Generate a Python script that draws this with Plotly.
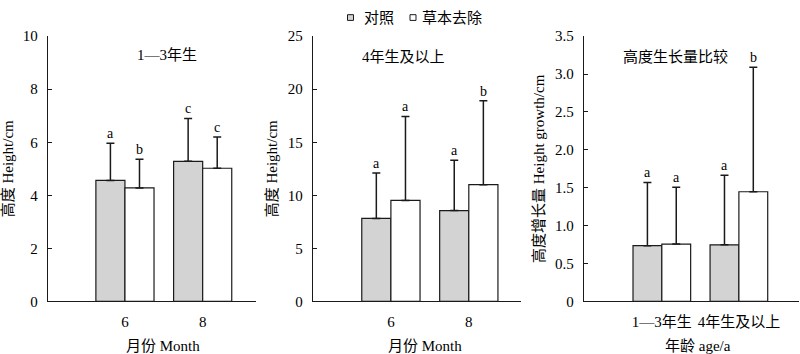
import plotly.graph_objects as go

# ---------------- data ----------------
months = ["6", "8"]
ages = ["1—3年生", "4年生及以上"]

p1_ctrl = [4.56, 5.28]
p1_ctrl_err = [1.40, 1.62]
p1_rem = [4.28, 5.02]
p1_rem_err = [1.08, 1.18]
p1_ctrl_sig = ["a", "c"]
p1_rem_sig = ["b", "c"]

p2_ctrl = [7.82, 8.56]
p2_ctrl_err = [4.28, 4.74]
p2_rem = [9.52, 11.0]
p2_rem_err = [7.91, 7.92]
p2_ctrl_sig = ["a", "a"]
p2_rem_sig = ["a", "b"]

p3_ctrl = [0.735, 0.747]
p3_ctrl_err = [0.835, 0.918]
p3_rem = [0.756, 1.447]
p3_rem_err = [0.749, 1.643]
p3_ctrl_sig = ["a", "a"]
p3_rem_sig = ["a", "b"]

y1_ticks = [0, 2, 4, 6, 8, 10]
y2_ticks = [0, 5, 10, 15, 20, 25]
y3_ticks = [0, 0.5, 1.0, 1.5, 2.0, 2.5, 3.0, 3.5]
y3_ticktext = ["0", "0.5", "1.0", "1.5", "2.0", "2.5", "3.0", "3.5"]

series_names = ["对照", "草本去除"]
panel_titles = ["1—3年生", "4年生及以上", "高度生长量比较"]
# --------------------------------------

FONT = "Liberation Serif, 'Times New Roman', 'Noto Sans CJK SC', serif"
GRAY = "#d3d3d3"
EDGE = "#1a1a1a"
BARGAP = 0.252
HALF = (1 - BARGAP) / 4  # offset of each bar centre from group centre

fig = go.Figure()

panels = [
    (p1_ctrl, p1_ctrl_err, p1_rem, p1_rem_err, p1_ctrl_sig, p1_rem_sig, "x", "y"),
    (p2_ctrl, p2_ctrl_err, p2_rem, p2_rem_err, p2_ctrl_sig, p2_rem_sig, "x2", "y2"),
    (p3_ctrl, p3_ctrl_err, p3_rem, p3_rem_err, p3_ctrl_sig, p3_rem_sig, "x3", "y3"),
]

annotations = []
for (c, ce, r, re_, cs, rs, xa, ya) in panels:
    pos = list(range(len(c)))
    for vals, errs, sig, color, name, sgn in [
        (c, ce, cs, GRAY, series_names[0], -1),
        (r, re_, rs, "white", series_names[1], 1),
    ]:
        fig.add_trace(go.Bar(
            x=pos, y=vals, name=name, showlegend=False,
            marker=dict(color=color, line=dict(color=EDGE, width=1.2)),
            error_y=dict(type="data", array=errs, arrayminus=[0] * len(errs),
                         symmetric=False, color=EDGE, thickness=1.5, width=4),
            xaxis=xa, yaxis=ya,
        ))
        for p, v, e, s in zip(pos, vals, errs, sig):
            annotations.append(dict(
                x=p + sgn * HALF, y=v + e, xref=xa, yref=ya, text=s,
                showarrow=False, yanchor="bottom", yshift=0,
                font=dict(family=FONT, size=14, color="black"),
            ))

# panel titles
for xa, xpos, ypos, t in [("x", 0.572, 0.93, panel_titles[0]),
                          ("x2", 0.436, 0.92, panel_titles[1]),
                          ("x3", 0.427, 0.925, panel_titles[2])]:
    ya = xa.replace("x", "y")
    annotations.append(dict(
        x=xpos, y=ypos, xref=xa + " domain", yref=ya + " domain", text=t,
        showarrow=False, xanchor="center", yanchor="middle",
        font=dict(family=FONT, size=15, color="black"),
    ))

# x-axis titles
for xc, t in [(163, "月份 Month"), (425, "月份 Month"), (698, "年龄 age/a")]:
    annotations.append(dict(
        x=xc / 800, y=0, xref="paper", yref="paper", text=t,
        showarrow=False, xanchor="center", yanchor="middle",
        font=dict(family=FONT, size=15, color="black"),
    ))

# manual legend
shapes = []
for sx, col, tx, t in [(350.5, GRAY, 362, series_names[0]), (413, "white", 420, series_names[1])]:
    shapes.append(dict(type="rect", xref="paper", yref="paper",
                       x0=(sx - 3) / 800, x1=(sx + 3) / 800,
                       y0=1 - 13 / 354, y1=1 - 7 / 354,
                       fillcolor=col, line=dict(color=EDGE, width=1)))
    annotations.append(dict(
        x=tx / 800, y=1 - 10 / 354, xref="paper", yref="paper", text=t,
        showarrow=False, xanchor="left", yanchor="middle",
        font=dict(family=FONT, size=15, color="black"),
    ))

ydom = [1 - 307.3 / 354, 1 - 29.5 / 354]

def xaxis(domain, rng, ticktext, anchor, fs=15):
    return dict(domain=domain, range=rng, tickvals=list(range(len(ticktext))),
                ticktext=ticktext, ticks="", showline=True, linecolor=EDGE,
                linewidth=1.3, showgrid=False, zeroline=False, anchor=anchor,
                tickfont=dict(family=FONT, size=fs, color="black"),
                ticklabelstandoff=6)

def yaxis(rng, tickvals, ticktext, anchor, title):
    return dict(domain=ydom, range=rng, tickvals=tickvals, ticktext=ticktext,
                ticks="inside", ticklen=4, tickcolor=EDGE, tickwidth=1.2,
                showline=True, linecolor=EDGE, linewidth=1.3, showgrid=False,
                zeroline=False, anchor=anchor,
                tickfont=dict(family=FONT, size=15, color="black"),
                ticklabelstandoff=6,
                title=dict(text=title, font=dict(family=FONT, size=15, color="black"),
                           standoff=6))

fig.update_layout(
    width=800, height=354,
    margin=dict(l=0, r=0, t=0, b=0),
    paper_bgcolor="white", plot_bgcolor="white",
    barmode="group", bargap=BARGAP, bargroupgap=0,
    showlegend=False,
    xaxis=xaxis([48 / 800, 256 / 800], [-0.99, 1.686], months, "y"),
    xaxis2=xaxis([313 / 800, 521 / 800], [-1.0, 1.67], months, "y2"),
    xaxis3=xaxis([584 / 800, 799 / 800], [-1.01, 1.78], ages, "y3"),
    yaxis=yaxis([0, 10], y1_ticks, [str(v) for v in y1_ticks], "x", "高度 Height/cm"),
    yaxis2=yaxis([0, 25], y2_ticks, [str(v) for v in y2_ticks], "x2", "高度 Height/cm"),
    yaxis3=yaxis([0, 3.5], y3_ticks, y3_ticktext, "x3", "高度增长量 Height growth/cm"),
    annotations=annotations,
    shapes=shapes,
    font=dict(family=FONT, color="black"),
)

fig.write_html("out.html")
